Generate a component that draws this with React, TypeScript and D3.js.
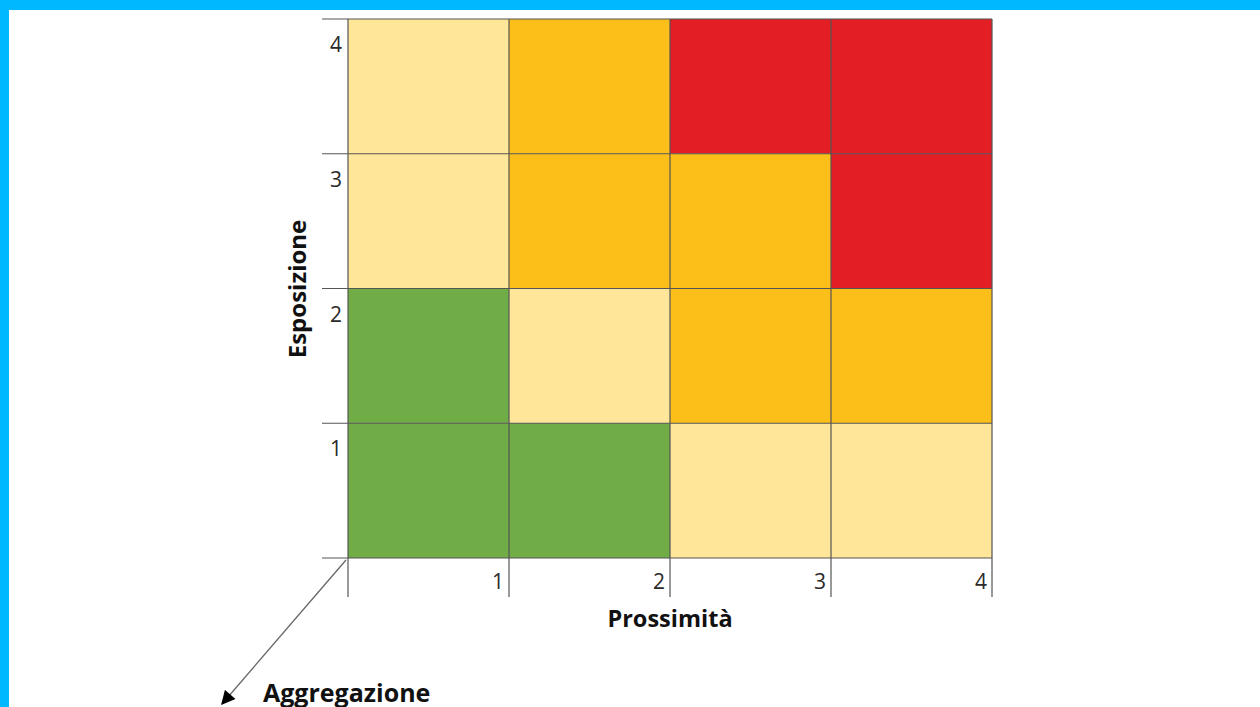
import React from "react";
import * as d3 from "d3";

const prossimita = [1, 2, 3, 4];
const esposizione = [4, 3, 2, 1];
// risk level for each cell: rows esposizione 4..1, columns prossimita 1..4
const levels: number[][] = [
  [1, 2, 3, 3],
  [1, 2, 2, 3],
  [0, 1, 2, 2],
  [0, 0, 1, 1],
];
const levelColors = ["#70AD47", "#FFE699", "#FCBF1A", "#E31E24"];
const xTitle = "Prossimità";
const yTitle = "Esposizione";
const zTitle = "Aggregazione";

export default function App() {
  const W = 1260, H = 707;
  const x = d3.scaleBand<number>().domain(prossimita).range([348, 992]);
  const y = d3.scaleBand<number>().domain(esposizione).range([19, 558]);
  const bw = x.bandwidth();
  const bh = y.bandwidth();
  const font = "'Open Sans', sans-serif";
  const line = "#555";
  const x0 = x.range()[0];
  const y1 = y.range()[1];
  return (
    <div style={{ position: "fixed", left: 0, top: 0, width: W, height: H }}>
      <svg width={W} height={H} style={{ display: "block" }}>
        <defs>
          <marker id="ah" viewBox="0 0 10 10" refX="9" refY="5" markerWidth="15" markerHeight="14" orient="auto" markerUnits="userSpaceOnUse">
            <path d="M0,0 L10,5 L0,10 z" fill="#000" />
          </marker>
        </defs>
        <rect x={0} y={0} width={W} height={H} fill="#fff" />
        <rect x={0} y={0} width={W} height={10} fill="#00B8FF" />
        <rect x={0} y={0} width={9} height={H} fill="#00B8FF" />
        {esposizione.map((e, ri) =>
          prossimita.map((p, ci) => (
            <rect key={`${e}-${p}`} x={x(p)} y={y(e)} width={bw} height={bh} fill={levelColors[levels[ri][ci]]} />
          ))
        )}
        {esposizione.map((e) => (
          <line key={`h${e}`} x1={322} x2={992} y1={y(e)!} y2={y(e)!} stroke={line} strokeWidth={1.2} />
        ))}
        <line x1={322} x2={992} y1={y1} y2={y1} stroke={line} strokeWidth={1.2} />
        {prossimita.map((p) => (
          <line key={`v${p}`} x1={x(p)!} x2={x(p)!} y1={19} y2={597} stroke={line} strokeWidth={1.2} />
        ))}
        <line x1={992} x2={992} y1={19} y2={597} stroke={line} strokeWidth={1.2} />
        {esposizione.map((e) => (
          <text key={`yl${e}`} x={x0 - 6} y={y(e)! + 33} textAnchor="end" fontFamily={font} fontSize={21} fill="#2a2a2a">{e}</text>
        ))}
        {prossimita.map((p) => (
          <text key={`xl${p}`} x={x(p)! + bw - 5} y={589} textAnchor="end" fontFamily={font} fontSize={21} fill="#2a2a2a">{p}</text>
        ))}
        <text x={670} y={627} textAnchor="middle" fontFamily={font} fontWeight="bold" fontSize={23.5} fill="#111">{xTitle}</text>
        <text transform={`translate(306,289) rotate(-90)`} textAnchor="middle" fontFamily={font} fontWeight="bold" fontSize={24} fill="#111">{yTitle}</text>
        <line x1={x0 - 2} y1={y1 + 2} x2={222} y2={704} stroke="#666" strokeWidth={1.3} markerEnd="url(#ah)" />
        <text x={263} y={702} fontFamily={font} fontWeight="bold" fontSize={25} fill="#111">{zTitle}</text>
      </svg>
    </div>
  );
}
